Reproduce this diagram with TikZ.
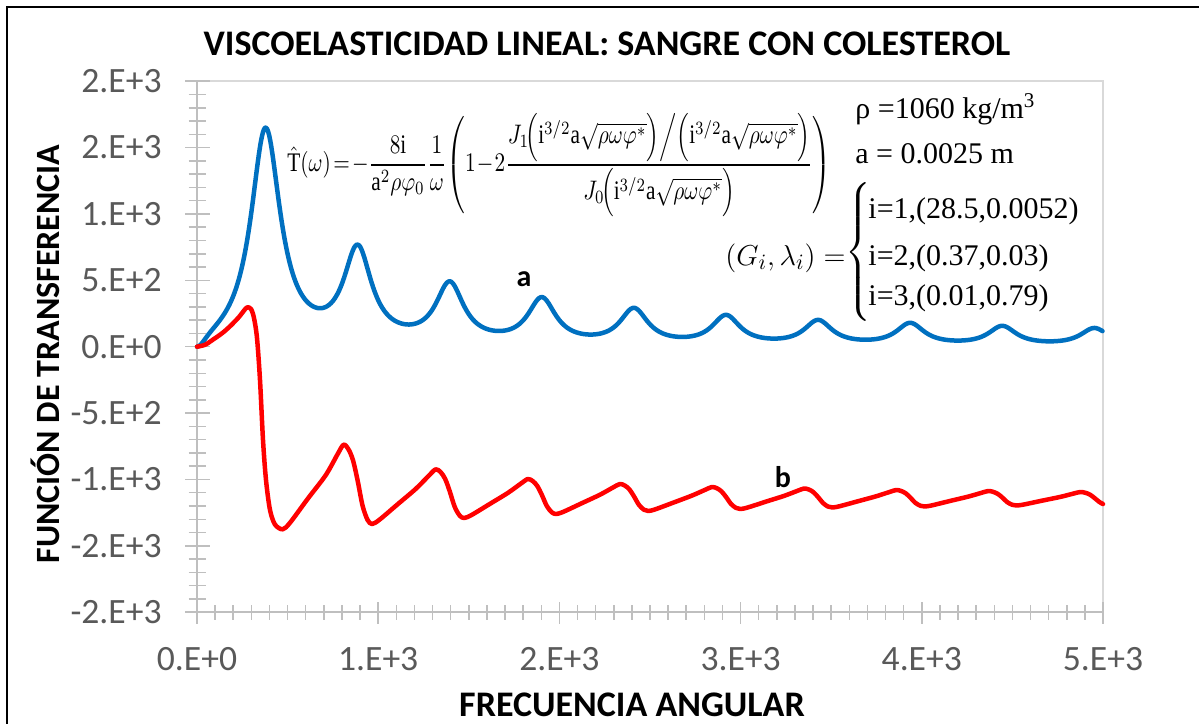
\documentclass[tikz,border=0pt]{standalone}
\usepackage{amsmath}
\usepackage{graphicx}
\usepackage{fontspec}
\setmainfont{Liberation Serif}
\newfontfamily\calibri{Carlito}
\definecolor{axisgray}{HTML}{BFBFBF}
\definecolor{bordergray}{HTML}{D9D9D9}
\definecolor{labelgray}{HTML}{595959}
\definecolor{curveblue}{HTML}{0070C0}
\definecolor{curvered}{HTML}{FF0000}
\newcommand{\zarg}{\mathrm{i}^{3/2}\mathrm{a}\sqrt{\rho\omega\varphi^{*}}}
\tikzset{
  declare function={
    lz(\lzu,\lzg)=(\lzg)*(\lzg)/((\lzu)*(\lzu)+(\lzg)*(\lzg));
    bluef(\bx)=(\bx)*(\bx)/((\bx)*(\bx)+0.01)*(220*lz(\bx-0.685,0.18)+92*lz(\bx-1.606,0.17)+58.5*lz(\bx-2.527,0.17)+44.5*lz(\bx-3.448,0.17)+34.8*lz(\bx-4.369,0.17)+28.5*lz(\bx-5.290,0.17)+24*lz(\bx-6.211,0.17)+21.5*lz(\bx-7.132,0.17)+18.8*lz(\bx-8.053,0.17)+17*lz(\bx-8.974,0.17)+16*lz(\bx-9.895,0.17));
  },
  axisline/.style={draw=axisgray, line width=0.75pt},
  ticklabel/.style={font=\calibri\fontsize{17.8}{20}\selectfont, text=labelgray, inner sep=0pt},
  axtitle/.style={font=\calibri\bfseries\fontsize{18}{21}\selectfont, text=black, inner sep=0pt},
  curvelabel/.style={font=\calibri\bfseries\fontsize{15}{18}\selectfont, text=black, inner sep=0pt},
  param/.style={font=\fontsize{15}{18}\selectfont, inner sep=0pt},
  bluecurve/.style={draw=curveblue, line width=2.25pt, line join=round, line cap=round},
  redcurve/.style={draw=curvered, line width=2.25pt, line join=round, line cap=round},
}
\begin{document}
\begin{tikzpicture}[x=0.5pt, y=-0.5pt]
\useasboundingbox (0,0) rectangle (1199,723);
\fill[white] (0,0) rectangle (1199,723);
% outer chart frame
\draw[black, line width=0.85pt] (7,724) -- (7,7) -- (1200,7);
% plot area border
\draw[draw=bordergray, line width=0.75pt] (197,81.2) -- (1103,81.2) -- (1103,612.2);
% minor and major ticks
\foreach \v in {-2000,-1900,...,2000}
  \draw[axisline] (188.5,{346.7-0.13275*\v}) -- (205.5,{346.7-0.13275*\v});
\foreach \v in {-2000,-1500,...,2000}
  \draw[axisline] (185,{346.7-0.13275*\v}) -- (210,{346.7-0.13275*\v});
\foreach \w in {0,100,...,5000}
  \draw[axisline] ({197+0.1812*\w},605) -- ({197+0.1812*\w},620);
\foreach \w in {0,1000,...,5000}
  \draw[axisline] ({197+0.1812*\w},602) -- ({197+0.1812*\w},624);
% axes
\draw[axisline] (197,81.2) -- (197,612.2) -- (1103,612.2);
% tick labels
\foreach \v/\lab in {2000/2.E+3,1500/2.E+3,1000/1.E+3,500/5.E+2,0/0.E+0,-500/-5.E+2,-1000/-1.E+3,-1500/-2.E+3,-2000/-2.E+3}
  \node[ticklabel, anchor=east] (yl\v) at (162,{346.7-0.13275*\v}) {\lab};
\foreach \w/\lab in {0/0.E+0,1000/1.E+3,2000/2.E+3,3000/3.E+3,4000/4.E+3,5000/5.E+3}
  \node[ticklabel] (xl\w) at ({197+0.1812*\w},659) {\lab};
% titles
\node[axtitle] (title) at (607,44) {VISCOELASTICIDAD LINEAL: SANGRE CON COLESTEROL};
\node[axtitle, font=\calibri\bfseries\fontsize{17}{20}\selectfont, rotate=90, anchor=base] (ytitle) at (59,354) {FUNCIÓN DE TRANSFERENCIA};
\node[axtitle, anchor=base] (xtitle) at (632,716) {FRECUENCIA ANGULAR};
% curves
\draw[bluecurve] plot[smooth, domain=0:9.06, samples=454] ({197+100*\x},{346.7-bluef(\x)});
\draw[redcurve] plot[smooth, tension=0.5] coordinates {
(197,346.7) (205,344.8) (213,339.6) (222,333.3) (230,326.3) (239,317) (244,310.5) (247.3,307.3) (251,309) (254,318) (257,338) (260,380) (263,440) (266,480) (270,510) (275,524.5) (282.7,529.3)
(290.2,522.5) (307.7,498.8) (325.7,475.2) (337.2,454.9)
(343.6,444.7) (348.6,449.5) (353.1,460.6) (357.6,480.4) (362.6,505.8) (367.6,520.0) (372.1,524)
(379.6,519.6) (397.6,504.3) (415.6,489.0) (428.6,475.9)
(435.7,469.3) (440.7,472.2) (445.2,479.0) (449.7,491.2) (454.7,506.8) (459.7,515.6) (464.2,518)
(471.7,514.9) (489.7,504.0) (507.7,493.0) (520.7,483.7)
(527.8,479) (532.8,481.1) (537.3,486) (541.8,494.8) (546.8,506) (551.8,512.3) (556.3,514)
(563.8,511.6) (581.8,503.2) (599.8,494.8) (612.8,487.6)
(619.9,484) (624.9,485.6) (629.4,489.4) (633.9,496.2) (638.9,504.8) (643.9,509.7) (648.4,511)
(655.9,509.1) (673.9,502.4) (691.9,495.6) (704.9,489.9)
(712,487) (717,488.3) (721.5,491.4) (726,496.9) (731,503.9) (736,507.9) (740.5,509)
(748,507.4) (766,501.6) (784,495.9) (797,491)
(804.1,488.5) (809.1,489.6) (813.6,492.3) (818.1,497.1) (823.1,503.1) (828.1,506.6) (832.6,507.5)
(840.1,506.1) (858.1,501.2) (876.1,496.3) (889.1,492.1)
(896.2,490) (901.2,491) (905.7,493.3) (910.2,497.4) (915.2,502.7) (920.2,505.7) (924.7,506.5)
(932.2,505.3) (950.2,500.9) (968.2,496.6) (981.2,492.9)
(988.3,491) (993.3,491.9) (997.8,493.9) (1002.3,497.5) (1007.3,502.2) (1012.3,504.8) (1016.8,505.5)
(1024.3,504.4) (1042.3,500.6) (1060.3,496.9) (1073.3,493.6)
(1080.4,492) (1085.4,492.8) (1089.9,494.6) (1094.4,497.9) (1099.4,502) (1103,504)
};
% curve labels
\node[curvelabel, anchor=base] (la) at (524,286) {a};
\node[curvelabel, anchor=base] (lb) at (783,487) {b};
% formula
\node[inner sep=0pt, anchor=west] (formula) at (287,165) {\resizebox*{272pt}{52pt}{$\displaystyle \hat{\mathrm{T}}\!\left(\omega\right)\!=\!-\frac{8\mathrm{i}}{\mathrm{a}^{2}\rho\varphi_{0}}\frac{1}{\omega}\!\left(1\!-\!2\frac{J_{1}\!\Bigl(\zarg\Bigr)\Big/\Bigl(\zarg\Bigr)}{J_{0}\!\Bigl(\zarg\Bigr)}\right)$}};
% parameters
\node[param, anchor=base west] (rho) at (855,118) {ρ =1060 kg/m\textsuperscript{3}};
\node[param, anchor=base west] (arad) at (855,163) {a = 0.0025 m};
\node[param, font=\fontsize{15.5}{19}\selectfont, anchor=base east] (gl) at (846,265) {$(G_i,\lambda_i)=$};
\node[param] (brace) at (859,252) {$\left\{\vrule height 31pt depth 31pt width 0pt\right.$};
\node[param, anchor=base west] (i1) at (868,218) {i=1,(28.5,0.0052)};
\node[param, anchor=base west] (i2) at (868,265) {i=2,(0.37,0.03)};
\node[param, anchor=base west] (i3) at (868,305) {i=3,(0.01,0.79)};
\end{tikzpicture}
\end{document}
